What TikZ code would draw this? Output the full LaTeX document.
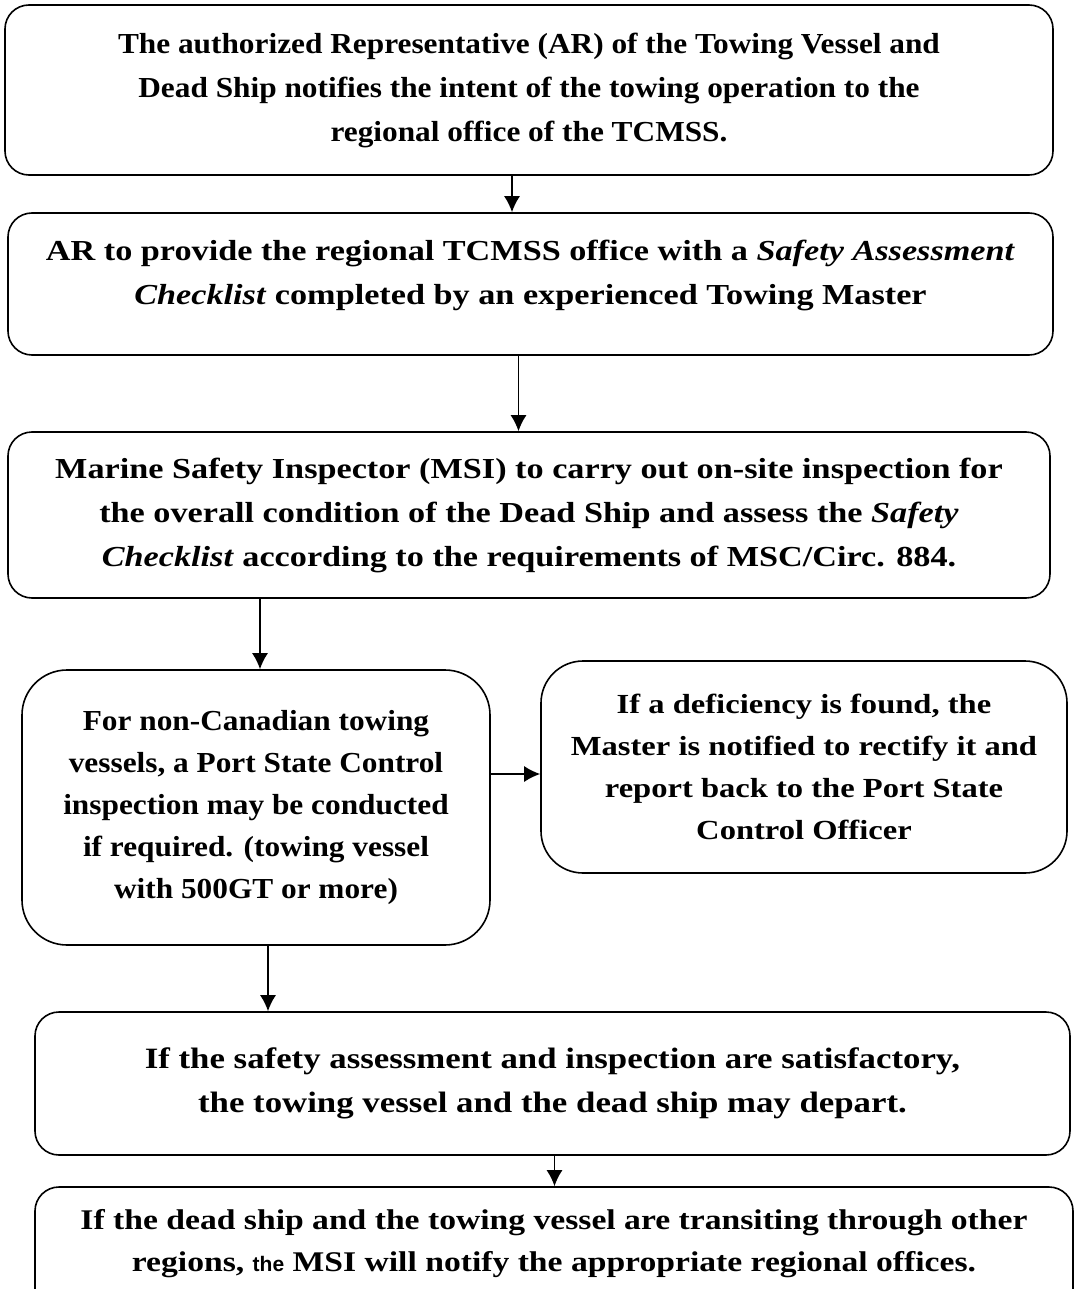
\documentclass[tikz,border=0pt]{standalone}
\usepackage{fontspec}
\setmainfont{Liberation Serif}[FakeStretch=1.18]
\setsansfont{Liberation Sans}
\newfontfamily\narrowserif{Liberation Serif}[FakeStretch=1.08]
\usepackage{tikz}
\usetikzlibrary{arrows.meta}

\tikzset{
  stepbox/.style={draw, line width=1.6pt, rounded corners=24pt, align=center,
    inner sep=0pt, font=\bfseries\fontsize{29}{44}\selectfont},
  flow/.style={-{Latex[length=16pt,width=16pt]}, line width=1.6pt}
}

\begin{document}
\begin{tikzpicture}[x=1pt,y=-1pt]
\useasboundingbox (0,0) rectangle (1075,1289);
\node[stepbox, minimum width=1048pt, minimum height=170pt, font=\narrowserif\bfseries\fontsize{29}{44}\selectfont] (v1) at (529,90) {The authorized Representative (AR) of the Towing Vessel and\\ Dead Ship notifies the intent of the towing operation to the\\ regional office of the TCMSS.};
\node[stepbox, minimum width=1045pt, minimum height=142pt, text depth=24pt] (v2) at (530.5,284) {AR to provide the regional TCMSS office with a \textit{Safety Assessment}\\ \textit{Checklist} completed by an experienced Towing Master};
\node[stepbox, minimum width=1042pt, minimum height=166pt] (v3) at (529,515) {Marine Safety Inspector (MSI) to carry out on-site inspection for\\ the overall condition of the Dead Ship and assess the \textit{Safety}\\ \textit{Checklist} according to the requirements of MSC/Circ. 884.};
\node[stepbox, rounded corners=45pt, minimum width=468pt, minimum height=275pt, font=\narrowserif\bfseries\fontsize{29}{42}\selectfont] (v4) at (256,807.5) {For non-Canadian towing\\ vessels, a Port State Control\\ inspection may be conducted\\ if required. (towing vessel\\ with 500GT or more)};
\node[stepbox, rounded corners=42pt, minimum width=526pt, minimum height=212pt, font=\bfseries\fontsize{27.6}{42}\selectfont] (v5) at (804,767) {If a deficiency is found, the\\ Master is notified to rectify it and\\ report back to the Port State\\ Control Officer};
\node[stepbox, minimum width=1035pt, minimum height=143pt, font=\bfseries\fontsize{29.5}{44}\selectfont] (v6) at (552.5,1083.5) {If the safety assessment and inspection are satisfactory,\\ the towing vessel and the dead ship may depart.};
\node[stepbox, minimum width=1038pt, minimum height=170pt, text depth=64pt, font=\bfseries\fontsize{28.5}{42}\selectfont] (v7) at (554,1272) {If the dead ship and the towing vessel are transiting through other\\ regions, {\sffamily\fontsize{21}{42}\selectfont the} MSI will notify the appropriate regional offices.};
% connectors
\draw [flow] ([xshift=-17pt]v1.south) -- ([xshift=-17pt]v1.south |- v2.north);
\draw [flow] ([xshift=-12pt]v2.south) -- ([xshift=-12pt]v2.south |- v3.north);
\draw [flow] ([xshift=4pt]v3.south -| v4.north) -- ([xshift=4pt]v4.north);
\draw [flow] ([yshift=-7pt]v4.east |- v5.west) -- ([yshift=-7pt]v5.west);
\draw [flow] ([xshift=12pt]v4.south) -- ([xshift=12pt]v4.south |- v6.north);
\draw [flow] ([xshift=2pt]v6.south) -- ([xshift=2pt]v6.south |- v7.north);
\end{tikzpicture}
\end{document}
